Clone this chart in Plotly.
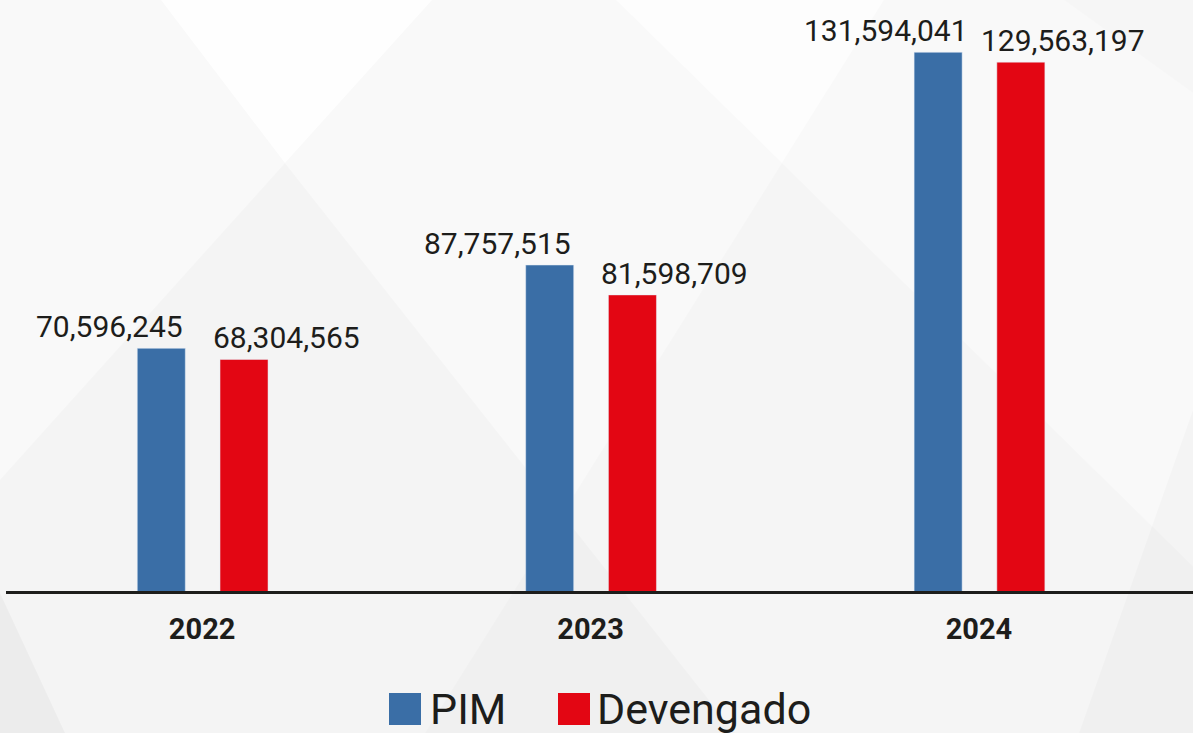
import plotly.graph_objects as go

# ---------------- data ----------------
years = ["2022", "2023", "2024"]
pim = [70596245, 87757515, 131594041]
devengado = [68304565, 81598709, 129563197]
series_names = ["PIM", "Devengado"]

BLUE = "#3A6EA6"
RED = "#E30613"
TEXT = "#1D1D1B"

W, H = 1193, 733
ML, MR, MT, MB = 6, 0, 0, 142
PW, PH = W - ML - MR, H - MT - MB


def px(x):
    return (x - ML) / PW


def py(y):
    return (H - MB - y) / PH


def tri(pts, color):
    path = "M " + " L ".join(f"{px(a):.4f},{py(b):.4f}" for a, b in pts) + " Z"
    return dict(type="path", xref="paper", yref="paper", path=path,
                fillcolor=color, line=dict(width=0), layer="below")


BAR_W = 0.1236
OFF_PIM = -0.167
OFF_DEV = 0.046

fig = go.Figure()
fig.add_trace(go.Bar(x=years, y=pim, name=series_names[0], marker_color=BLUE,
                     width=BAR_W, offset=OFF_PIM, showlegend=False))
fig.add_trace(go.Bar(x=years, y=devengado, name=series_names[1], marker_color=RED,
                     width=BAR_W, offset=OFF_DEV, showlegend=False))

label_font = dict(family="Roboto", size=30, color=TEXT)
annotations = []
for i, (a, b) in enumerate(zip(pim, devengado)):
    annotations.append(dict(x=i - 0.239, y=a, xref="x", yref="y", text=f"{a:,}",
                            showarrow=False, yanchor="bottom", xanchor="center", yshift=2,
                            font=label_font))
    annotations.append(dict(x=i + 0.216, y=b, xref="x", yref="y", text=f"{b:,}",
                            showarrow=False, yanchor="bottom", xanchor="center", yshift=2,
                            font=label_font))

# custom legend (large swatches)
legend_font = dict(family="Roboto", size=43, color=TEXT)
annotations.append(dict(x=px(428), y=py(709), xref="paper", yref="paper", text=series_names[0],
                        showarrow=False, xanchor="left", yanchor="middle", font=legend_font))
annotations.append(dict(x=px(595), y=py(709), xref="paper", yref="paper", text=series_names[1],
                        showarrow=False, xanchor="left", yanchor="middle", font=legend_font))

shapes = [
    tri([(161, 0), (432, 0), (285, 163)], "rgba(255,255,255,0.85)"),
    tri([(285, 163), (-228, 733), (735, 733)], "rgba(0,0,0,0.018)"),
    tri([(616, 0), (884, 0), (782, 163)], "rgba(255,255,255,0.6)"),
    tri([(782, 163), (425, 733), (1363, 733)], "rgba(0,0,0,0.014)"),
    tri([(0, 593), (0, 733), (65, 733)], "rgba(0,0,0,0.03)"),
    tri([(1193, 410), (1079, 733), (1193, 733)], "rgba(0,0,0,0.018)"),
    tri([(1064, 0), (1193, 0), (1193, 93)], "rgba(0,0,0,0.012)"),
    dict(type="rect", xref="paper", yref="paper", x0=px(389), x1=px(421), y0=py(725), y1=py(693),
         fillcolor=BLUE, line=dict(width=0)),
    dict(type="rect", xref="paper", yref="paper", x0=px(558), x1=px(590), y0=py(725), y1=py(693),
         fillcolor=RED, line=dict(width=0)),
]

fig.update_layout(
    width=W, height=H,
    margin=dict(l=ML, r=MR, t=MT, b=MB, pad=0),
    paper_bgcolor="#F9F9F9",
    plot_bgcolor="rgba(0,0,0,0)",
    barmode="group",
    showlegend=False,
    annotations=annotations,
    shapes=shapes,
    xaxis=dict(type="category", range=[-0.505, 2.551], showline=True, linecolor=TEXT,
               linewidth=3, ticks="", showgrid=False, zeroline=False,
               tickfont=dict(family="Roboto", size=29, color=TEXT, weight="bold"),
               ticklabelstandoff=10),
    yaxis=dict(range=[20.585e6, 142.37e6], visible=False, showgrid=False, zeroline=False),
)

fig.write_html("out.html", config={"displayModeBar": False},
               post_script="document.body.style.margin='0px';document.body.style.overflow='hidden';")
